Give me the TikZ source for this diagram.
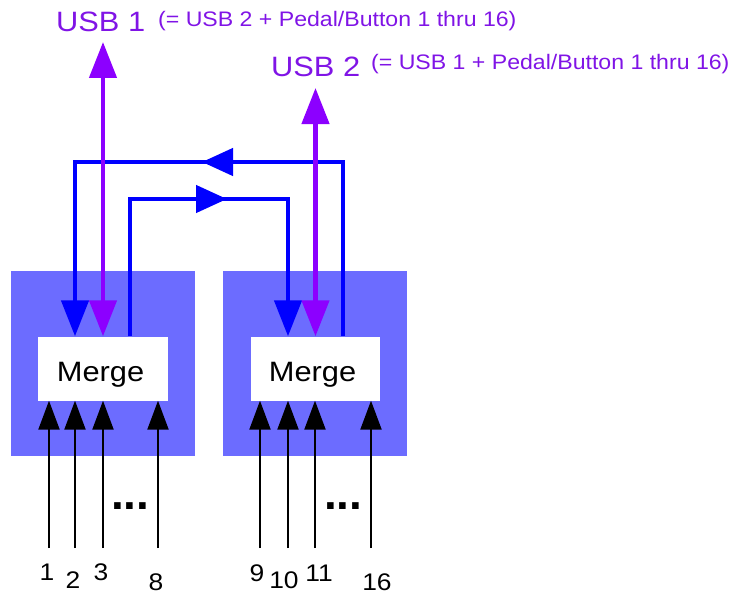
\documentclass[tikz,border=0pt]{standalone}
\usepackage{fontspec}
\setmainfont{Liberation Sans}
\usetikzlibrary{arrows.meta}
\definecolor{panel}{RGB}{108,108,255}
\definecolor{bl}{RGB}{0,0,255}
\definecolor{pu}{RGB}{140,0,255}
\definecolor{put}{RGB}{128,20,230}
\newcommand\sxx[1]{\scalebox{1.1}[1]{#1}}
\begin{document}
\begin{tikzpicture}[x=1pt,y=-1pt,
  panelbox/.style={fill=panel,draw=none},
  mergebox/.style={fill=white,draw=none,minimum height=64pt,inner sep=0pt},
  mergetext/.style={font=\fontsize{28}{30}\selectfont,inner sep=0pt,anchor=base},
  blueline/.style={draw=bl,line width=4.5pt},
  purpleline/.style={draw=pu,line width=4.5pt},
  inarrow/.style={draw=black,line width=2.2pt,-{Triangle[length=29pt,width=21pt]}},
  usbtext/.style={font=\fontsize{28}{30}\selectfont,text=put,inner sep=0pt,anchor=base west},
  notetext/.style={font=\fontsize{21}{24}\selectfont,text=put,inner sep=0pt,anchor=base west},
  numtext/.style={font=\fontsize{24}{26}\selectfont,inner sep=0pt},
  dotstext/.style={font=\fontsize{46}{46}\selectfont\bfseries,inner sep=0pt,anchor=base west}
]
\useasboundingbox (0,0) rectangle (734,594);

% panels
\fill[panelbox] (11,271) rectangle (195,456);
\fill[panelbox] (223,271) rectangle (407,456);

% merge boxes
\node[mergebox,minimum width=130pt] (m1) at (103,368.5) {};
\node[mergebox,minimum width=129pt] (m2) at (315.5,368.5) {};
\node[mergetext] (t1) at (100.5,381) {\sxx{Merge}};
\node[mergetext] (t2) at (312.5,381) {\sxx{Merge}};

% blue feedback lines
\coordinate (o1) at (343,162);
\coordinate (o2) at (75,162);
\coordinate (oa) at (202,162);
\coordinate (i1) at (130,199);
\coordinate (i2) at (288,199);
\coordinate (ia) at (227,199);
\draw[blueline,-{Triangle[length=36pt,width=27pt]}] (m2.north -| o1) -- (o1) -- (o2) -- (o2 |- m1.north);
\draw[blueline,-{Triangle[length=31pt,width=27pt]}] (o1) -- (oa);
\draw[blueline,-{Triangle[length=36pt,width=27pt]}] (m1.north -| i1) -- (i1) -- (i2) -- (i2 |- m2.north);
\draw[blueline,-{Triangle[length=31pt,width=27pt]}] (i1) -- (ia);

% USB outputs
\coordinate (u1tip) at (103,42);
\coordinate (u2tip) at (315.5,88);
\draw[purpleline,{Triangle[length=36pt,width=27pt]}-{Triangle[length=36pt,width=27pt]}] (u1tip) -- (m1.north);
\draw[purpleline,{Triangle[length=36pt,width=27pt]}-{Triangle[length=36pt,width=27pt]}] (u2tip) -- (m2.north);

\node[usbtext] (u1) at (56,32) {\sxx{USB 1}};
\node[notetext] (n1) at (158,27) {\sxx{(= USB 2 + Pedal/Button 1 thru 16)}};
\node[usbtext] (u2) at (271,77) {\sxx{USB 2}};
\node[notetext] (n2) at (371,70) {\sxx{(= USB 1 + Pedal/Button 1 thru 16)}};

% inputs
\coordinate (b1) at (49,548);
\coordinate (b2) at (75,548);
\coordinate (b3) at (103,548);
\coordinate (b8) at (158,548);
\coordinate (b9) at (260,548);
\coordinate (b10) at (288,548);
\coordinate (b11) at (315,548);
\coordinate (b16) at (371,548);
\foreach \b in {b1,b2,b3,b8} \draw[inarrow] (\b) -- (\b |- m1.south);
\foreach \b in {b9,b10,b11,b16} \draw[inarrow] (\b) -- (\b |- m2.south);

\node[dotstext] (d1) at (111,509) {...};
\node[dotstext] (d2) at (324,509) {...};

\node[numtext] (l1) at (47,572) {\sxx{1}};
\node[numtext] (l2) at (73,580) {\sxx{2}};
\node[numtext] (l3) at (101,572) {\sxx{3}};
\node[numtext] (l8) at (156,582) {\sxx{8}};
\node[numtext] (l9) at (257,573) {\sxx{9}};
\node[numtext] (l10) at (284,580) {\sxx{10}};
\node[numtext] (l11) at (319,573) {\sxx{11}};
\node[numtext] (l16) at (377,582) {\sxx{16}};
\end{tikzpicture}
\end{document}
